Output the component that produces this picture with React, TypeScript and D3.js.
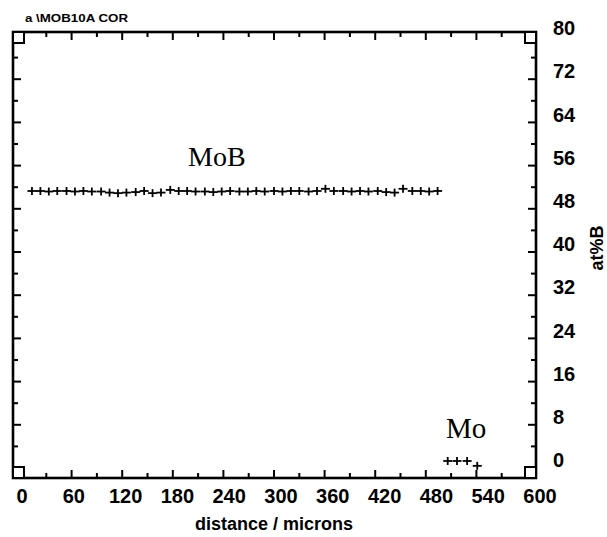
import React, { useEffect, useRef } from 'react';
import * as d3 from 'd3';

// MoB plateau: distance (microns) and at%B
const mobDistance = [13, 23, 33, 43, 54, 64, 74, 84, 95, 105, 115, 125, 136, 146, 156, 166, 177, 187, 197, 207, 218, 228, 238, 248, 259, 269, 279, 289, 300, 310, 320, 330, 341, 351, 361, 371, 382, 392, 402, 412, 423, 433, 443, 453, 464, 474, 484, 494];
const mobAtB = [51.3, 51.3, 51.2, 51.3, 51.3, 51.2, 51.3, 51.2, 51.2, 51.0, 50.9, 51.0, 51.1, 51.3, 50.9, 51.0, 51.5, 51.3, 51.3, 51.2, 51.2, 51.1, 51.2, 51.3, 51.2, 51.2, 51.3, 51.2, 51.3, 51.2, 51.3, 51.3, 51.2, 51.3, 51.7, 51.3, 51.3, 51.2, 51.3, 51.2, 51.3, 51.1, 51.0, 51.7, 51.3, 51.3, 51.2, 51.3];

// Mo region
const moDistance = [506, 517, 529, 541];
const moAtB = [1.3, 1.3, 1.3, 0.4];

const xTickLabels = [0, 60, 120, 180, 240, 300, 360, 420, 480, 540, 600];
const yTickLabels = [0, 8, 16, 24, 32, 40, 48, 56, 64, 72, 80];

const W = 607;
const H = 537;

const Chart = () => {
  const ref = useRef<SVGSVGElement>(null);

  useEffect(() => {
    const svg = d3.select(ref.current);
    svg.selectAll('*').remove();

    const frame = { left: 13, right: 536, top: 32, bottom: 478 };
    const x = d3.scaleLinear().domain([0, 600]).range([21, 527]);
    const xLab = d3.scaleLinear().domain([0, 600]).range([22, 540]);
    const y = d3.scaleLinear().domain([0, 80]).range([468, 36]);

    svg.append('rect')
      .attr('width', W).attr('height', H)
      .attr('fill', '#fff');

    // title
    svg.append('text')
      .attr('x', 25).attr('y', 22)
      .attr('font-family', 'Liberation Sans, Arial, sans-serif')
      .attr('font-weight', 'bold')
      .attr('font-size', 10)
      .attr('textLength', 103)
      .attr('lengthAdjust', 'spacingAndGlyphs')
      .text('a \\MOB10A COR');

    // frame
    svg.append('rect')
      .attr('x', frame.left).attr('y', frame.top)
      .attr('width', frame.right - frame.left)
      .attr('height', frame.bottom - frame.top)
      .attr('fill', 'none')
      .attr('stroke', '#000')
      .attr('stroke-width', 2.6);

    // corner squares
    const cs = 11;
    [[frame.left, frame.top], [frame.right - cs, frame.top], [frame.left, frame.bottom - cs], [frame.right - cs, frame.bottom - cs]]
      .forEach(([cx, cy]) => {
        svg.append('rect')
          .attr('x', cx).attr('y', cy)
          .attr('width', cs).attr('height', cs)
          .attr('fill', '#fff')
          .attr('stroke', '#000')
          .attr('stroke-width', 2);
      });

    const ticks = svg.append('g').attr('stroke', '#000').attr('stroke-width', 2);

    // x ticks on bottom and top, pointing inward
    d3.range(30, 600, 30).forEach((v) => {
      const len = v % 60 === 0 ? 8 : 5;
      ticks.append('line')
        .attr('x1', x(v)).attr('x2', x(v))
        .attr('y1', frame.bottom).attr('y2', frame.bottom - len);
      ticks.append('line')
        .attr('x1', x(v)).attr('x2', x(v))
        .attr('y1', frame.top).attr('y2', frame.top + len);
    });

    // y ticks on left and right, pointing inward
    d3.range(4, 80, 4).forEach((v) => {
      const len = v % 8 === 0 ? 8 : 5;
      ticks.append('line')
        .attr('x1', frame.left).attr('x2', frame.left + len)
        .attr('y1', y(v)).attr('y2', y(v));
      ticks.append('line')
        .attr('x1', frame.right).attr('x2', frame.right - len)
        .attr('y1', y(v)).attr('y2', y(v));
    });

    const axisFont = 'Liberation Sans, Arial, sans-serif';

    svg.append('g')
      .selectAll('text')
      .data(xTickLabels)
      .join('text')
      .attr('x', (d) => xLab(d))
      .attr('y', 503)
      .attr('text-anchor', 'middle')
      .attr('font-family', axisFont)
      .attr('font-weight', 'bold')
      .attr('font-size', 20)
      .text((d) => d);

    svg.append('g')
      .selectAll('text')
      .data(yTickLabels)
      .join('text')
      .attr('x', 553)
      .attr('y', (d) => y(d) - 8)
      .attr('dy', '0.36em')
      .attr('font-family', axisFont)
      .attr('font-weight', 'bold')
      .attr('font-size', 20)
      .text((d) => d);

    svg.append('text')
      .attr('x', 274).attr('y', 530)
      .attr('text-anchor', 'middle')
      .attr('font-family', axisFont)
      .attr('font-weight', 'bold')
      .attr('font-size', 18)
      .text('distance / microns');

    svg.append('text')
      .attr('transform', 'translate(603,248) rotate(-90)')
      .attr('text-anchor', 'middle')
      .attr('font-family', axisFont)
      .attr('font-weight', 'bold')
      .attr('font-size', 18)
      .text('at%B');

    // phase labels
    svg.append('text')
      .attr('x', 188).attr('y', 166)
      .attr('font-family', 'Liberation Serif, Times New Roman, serif')
      .attr('font-size', 28)
      .text('MoB');

    svg.append('text')
      .attr('x', 446).attr('y', 438)
      .attr('font-family', 'Liberation Serif, Times New Roman, serif')
      .attr('font-size', 29)
      .text('Mo');

    // plus markers
    const plus = d3.symbol().type(d3.symbolCross).size(0);
    void plus;
    const drawPlus = (xs: number[], ys: number[]) => {
      const g = svg.append('g').attr('stroke', '#000').attr('stroke-width', 1.8);
      xs.forEach((d, i) => {
        const px = x(d);
        const py = y(ys[i]);
        g.append('line').attr('x1', px - 4.5).attr('x2', px + 4.5).attr('y1', py).attr('y2', py);
        g.append('line').attr('x1', px).attr('x2', px).attr('y1', py - 4).attr('y2', py + 4);
      });
    };
    drawPlus(mobDistance, mobAtB);
    drawPlus(moDistance, moAtB);
  }, []);

  return (
    <svg
      ref={ref}
      width={W}
      height={H}
      style={{ position: 'absolute', left: 0, top: 0 }}
    />
  );
};

export default function App() {
  return <Chart />;
}
